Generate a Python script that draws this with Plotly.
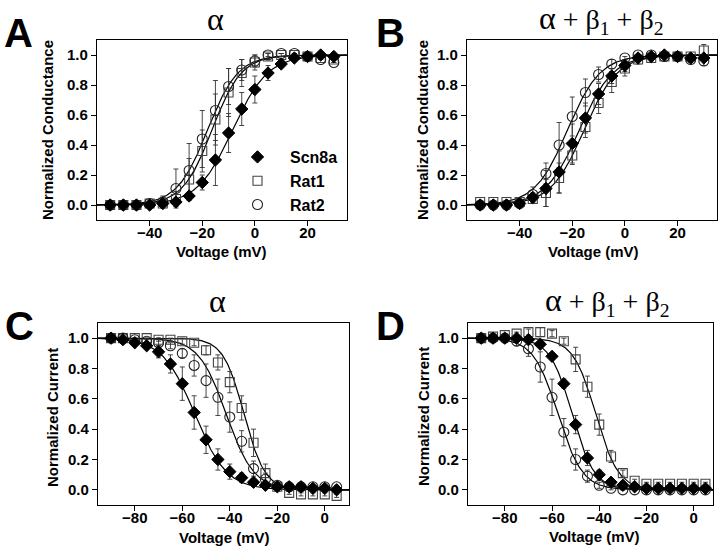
import numpy as np
import plotly.graph_objects as go

# ---------------- data ----------------
V_ACT = [-55, -50, -45, -40, -35, -30, -25, -20, -15, -10, -5, 0, 5, 10, 15, 20, 25, 30]
V_INACT = [-90, -85, -80, -75, -70, -65, -60, -55, -50, -45, -40, -35, -30, -25, -20, -15, -10, -5, 0, 5]

# Panel A (alpha, activation)
scn8a_A = [0, 0, 0, 0, 0.01, 0.02, 0.06, 0.15, 0.30, 0.48, 0.64, 0.77, 0.88, 0.94, 0.98, 0.99, 1.00, 0.99]
scn8a_A_err = [0, 0, 0, 0, 0, 0.01, 0.02, 0.05, 0.17, 0.13, 0.11, 0.09, 0.05, 0.02, 0.01, 0, 0, 0]
rat1_A = [0, 0, 0, 0.01, 0.01, 0.04, 0.17, 0.36, 0.57, 0.75, 0.88, 0.95, 0.99, 1.00, 1.00, 0.99, 0.98, 0.97]
rat1_A_err = [0, 0, 0, 0, 0.02, 0.05, 0.14, 0.14, 0.17, 0.16, 0.09, 0.05, 0.02, 0.01, 0, 0, 0, 0]
rat2_A = [0, 0, 0, 0.01, 0.02, 0.11, 0.23, 0.44, 0.63, 0.79, 0.90, 0.96, 1.00, 1.01, 1.01, 0.99, 0.97, 0.95]
rat2_A_err = [0, 0, 0, 0, 0.04, 0.13, 0.18, 0.19, 0.20, 0.12, 0.07, 0.04, 0.01, 0, 0, 0, 0, 0]

# Panel B (alpha + b1 + b2, activation)
scn8a_B = [0, 0, 0, 0.01, 0.05, 0.11, 0.22, 0.41, 0.58, 0.74, 0.86, 0.93, 0.98, 0.99, 1.00, 0.99, 0.98, 0.98]
scn8a_B_err = [0, 0, 0, 0, 0.03, 0.12, 0.14, 0.13, 0.10, 0.07, 0.05, 0.04, 0.02, 0.01, 0.01, 0, 0, 0.02]
rat1_B = [0.02, 0.02, 0.02, 0.02, 0.04, 0.08, 0.18, 0.33, 0.52, 0.68, 0.82, 0.91, 0.97, 0.98, 0.99, 0.99, 0.99, 1.03]
rat1_B_err = [0, 0, 0, 0, 0.03, 0.09, 0.10, 0.06, 0.07, 0.07, 0.07, 0.05, 0.03, 0.02, 0.01, 0.01, 0.01, 0.04]
rat2_B = [0, 0, 0, 0.01, 0.07, 0.21, 0.40, 0.59, 0.75, 0.87, 0.94, 0.98, 1.00, 1.00, 0.99, 0.99, 0.97, 0.96]
rat2_B_err = [0, 0, 0, 0, 0.05, 0.07, 0.15, 0.13, 0.09, 0.05, 0.03, 0.01, 0, 0, 0, 0, 0.02, 0.03]

# Panel C (alpha, inactivation)
scn8a_C = [1.0, 0.99, 0.97, 0.95, 0.91, 0.83, 0.70, 0.51, 0.33, 0.20, 0.12, 0.08, 0.05, 0.03, 0.02, 0.02, 0.02, 0.01, 0.01, 0.00]
scn8a_C_err = [0, 0.01, 0.01, 0.02, 0.04, 0.06, 0.11, 0.11, 0.09, 0.07, 0.05, 0.03, 0.02, 0.01, 0.01, 0.01, 0.01, 0.01, 0.01, 0.01]
rat1_C = [1.0, 1.0, 1.0, 1.0, 0.99, 0.99, 0.98, 0.97, 0.92, 0.84, 0.71, 0.54, 0.31, 0.11, 0.02, -0.02, -0.03, -0.03, -0.03, -0.04]
rat1_C_err = [0, 0, 0, 0, 0.01, 0.01, 0.02, 0.02, 0.03, 0.05, 0.07, 0.08, 0.09, 0.06, 0.03, 0.01, 0.01, 0.01, 0.01, 0.01]
rat2_C = [1.0, 1.0, 0.99, 0.98, 0.97, 0.95, 0.90, 0.82, 0.72, 0.61, 0.48, 0.32, 0.14, 0.07, 0.03, 0.02, 0.02, 0.02, 0.02, 0.02]
rat2_C_err = [0, 0, 0, 0.01, 0.02, 0.02, 0.03, 0.07, 0.11, 0.12, 0.10, 0.07, 0.05, 0.04, 0.01, 0.01, 0.01, 0.01, 0.01, 0.01]

# Panel D (alpha + b1 + b2, inactivation)
scn8a_D = [1.0, 1.0, 1.0, 1.0, 0.99, 0.96, 0.88, 0.70, 0.43, 0.21, 0.10, 0.05, 0.03, 0.02, 0.01, 0.01, 0.01, 0.01, 0.01, 0.01]
scn8a_D_err = [0, 0, 0, 0, 0.01, 0.01, 0.02, 0.03, 0.06, 0.05, 0.03, 0.02, 0.01, 0.01, 0.01, 0.01, 0.01, 0.01, 0.01, 0.02]
rat1_D = [1.0, 1.01, 1.02, 1.03, 1.04, 1.04, 1.03, 0.98, 0.86, 0.68, 0.43, 0.22, 0.11, 0.06, 0.04, 0.04, 0.04, 0.04, 0.04, 0.04]
rat1_D_err = [0, 0.01, 0.01, 0.01, 0.02, 0.03, 0.02, 0.02, 0.08, 0.07, 0.07, 0.04, 0.02, 0.01, 0.01, 0.01, 0.01, 0.01, 0.01, 0.01]
rat2_D = [1.0, 1.0, 1.0, 0.98, 0.93, 0.81, 0.61, 0.38, 0.20, 0.09, 0.03, 0.01, 0.0, 0.0, 0.0, 0.0, 0.0, 0.0, 0.0, 0.0]
rat2_D_err = [0, 0, 0, 0.03, 0.05, 0.10, 0.12, 0.09, 0.07, 0.04, 0.02, 0.01, 0, 0, 0, 0, 0, 0, 0, 0.01]

# Boltzmann fit parameters (V1/2 in mV, slope k in mV)
fit_A = {"Scn8a": (-8.5, 6.7), "Rat1": (-16.3, 5.6), "Rat2": (-18.0, 5.8)}
fit_B = {"Scn8a": (-17.3, 6.4), "Rat1": (-15.5, 6.3), "Rat2": (-21.8, 6.2)}
fit_C = {"Scn8a": (-54.8, 6.7), "Rat1": (-34.0, 4.4), "Rat2": (-41.5, 5.8)}
fit_D = {"Scn8a": (-51.5, 4.7), "Rat1": (-41.5, 4.8), "Rat2": (-57.5, 5.2)}

SERIES = ["Scn8a", "Rat1", "Rat2"]
Y_TICKS = [0.0, 0.2, 0.4, 0.6, 0.8, 1.0]
X_TICKS_ACT = [-40, -20, 0, 20]
X_TICKS_INACT = [-80, -60, -40, -20, 0]

# ---------------- styling ----------------
FONT = "Liberation Sans, Arial, sans-serif"
SERIF = "Liberation Serif, Times New Roman, serif"
marker_style = {
    "Scn8a": dict(symbol="diamond", size=9.5, color="black", line=dict(color="black", width=1)),
    "Rat1": dict(symbol="square-open", size=9, color="#444444", line=dict(width=1.1)),
    "Rat2": dict(symbol="circle-open", size=10, color="#222222", line=dict(width=1.1)),
}
draw_order = ["Rat1", "Rat2", "Scn8a"]
legend_rank = {"Scn8a": 1, "Rat1": 2, "Rat2": 3}

fig = go.Figure()

panels = [
    ("x", "y", V_ACT, {"Scn8a": (scn8a_A, scn8a_A_err), "Rat1": (rat1_A, rat1_A_err), "Rat2": (rat2_A, rat2_A_err)}, fit_A, (-60, 35), "act", True),
    ("x2", "y2", V_ACT, {"Scn8a": (scn8a_B, scn8a_B_err), "Rat1": (rat1_B, rat1_B_err), "Rat2": (rat2_B, rat2_B_err)}, fit_B, (-60, 35), "act", False),
    ("x3", "y3", V_INACT, {"Scn8a": (scn8a_C, scn8a_C_err), "Rat1": (rat1_C, rat1_C_err), "Rat2": (rat2_C, rat2_C_err)}, fit_C, (-95.5, 10.2), "inact", False),
    ("x4", "y4", V_INACT, {"Scn8a": (scn8a_D, scn8a_D_err), "Rat1": (rat1_D, rat1_D_err), "Rat2": (rat2_D, rat2_D_err)}, fit_D, (-95.6, 8.2), "inact", False),
]

for xa, ya, V, data, fits, xr, kind, show_leg in panels:
    vv = np.linspace(xr[0], xr[1], 300)
    for name in SERIES:
        vh, k = fits[name]
        if kind == "act":
            g = 1.0 / (1.0 + np.exp((vh - vv) / k))
        else:
            g = 1.0 / (1.0 + np.exp((vv - vh) / k))
        fig.add_trace(go.Scatter(x=vv, y=g, mode="lines", xaxis=xa, yaxis=ya,
                                 line=dict(color="black", width=1.2), showlegend=False,
                                 hoverinfo="skip"))
    for name in draw_order:
        y, e = data[name]
        fig.add_trace(go.Scatter(
            x=V, y=y, mode="markers", name=name, xaxis=xa, yaxis=ya,
            marker=marker_style[name],
            error_y=dict(type="data", array=e, visible=True, color="#333333", thickness=0.9, width=2.5),
            showlegend=show_leg, legendrank=legend_rank[name],
        ))

# page coordinates (page body margin is removed below, so the figure starts at 0,0)
W, H = 720, 554
def px(x):
    return x / W
def py(y):
    return 1 - y / H
def dx(a, b):
    return [px(a), px(b)]
def dy(top, bottom):
    return [py(bottom), py(top)]

TICKFONT = dict(family=FONT, size=15, color="black", weight="bold")
axis_common = dict(showline=True, linecolor="black", linewidth=1.2, mirror=True,
                   ticks="outside", ticklen=5, tickwidth=1.1, tickcolor="black",
                   showgrid=False, zeroline=False, tickfont=TICKFONT)

fig.update_layout(
    width=W, height=H, margin=dict(l=0, r=0, t=0, b=0),
    paper_bgcolor="white", plot_bgcolor="white",
    xaxis=dict(domain=dx(97, 347), range=[-60, 35], tickvals=X_TICKS_ACT, anchor="y", ticklabelstandoff=-6, **axis_common),
    yaxis=dict(domain=dy(40, 220), range=[-0.1, 1.1], tickvals=Y_TICKS, tickformat=".1f", anchor="x", **axis_common),
    xaxis2=dict(domain=dx(467, 717), range=[-60, 35], tickvals=X_TICKS_ACT, anchor="y2", ticklabelstandoff=-6, **axis_common),
    yaxis2=dict(domain=dy(40, 220), range=[-0.1, 1.1], tickvals=Y_TICKS, tickformat=".1f", anchor="x2", **axis_common),
    xaxis3=dict(domain=dx(98, 349), range=[-95.5, 10.2], tickvals=X_TICKS_INACT, anchor="y3", ticklabelstandoff=-6, **axis_common),
    yaxis3=dict(domain=dy(323, 505), range=[-0.1, 1.1], tickvals=Y_TICKS, tickformat=".1f", anchor="x3", **axis_common),
    xaxis4=dict(domain=dx(468, 713), range=[-95.6, 8.2], tickvals=X_TICKS_INACT, anchor="y4", ticklabelstandoff=-6, **axis_common),
    yaxis4=dict(domain=dy(323, 505), range=[-0.1, 1.1], tickvals=Y_TICKS, tickformat=".1f", anchor="x4", **axis_common),
    showlegend=True,
    legend=dict(x=px(225), y=py(140), xanchor="left", yanchor="top",
                bgcolor="rgba(0,0,0,0)", borderwidth=0,
                font=dict(family=FONT, size=16, color="black", weight="bold"),
                itemwidth=55, tracegroupgap=0),
)

def ann(text, x, y, size, family=FONT, bold=True, angle=0):
    fig.add_annotation(text=text, x=px(x), y=py(y), xref="paper", yref="paper",
                       showarrow=False, xanchor="center", yanchor="middle", textangle=angle,
                       font=dict(family=family, size=size, color="black",
                                 weight="bold" if bold else "normal"))

# panel letters
ann("A", 18, 33, 40)
ann("B", 390, 33, 40)
ann("C", 19, 326, 40)
ann("D", 391, 326, 40)

# panel titles
ALPHA = "<span style='font-size:32px'>α</span>"
ann(ALPHA, 215, 19, 28, family=SERIF, bold=False)
ann(ALPHA + " + β<sub>1</sub> + β<sub>2</sub>", 601, 19, 28, family=SERIF, bold=False)
ann(ALPHA, 217, 301, 28, family=SERIF, bold=False)
ann(ALPHA + " + β<sub>1</sub> + β<sub>2</sub>", 607, 301, 28, family=SERIF, bold=False)

# axis titles
ann("Voltage (mV)", 221, 251, 15)
ann("Voltage (mV)", 593, 251, 15)
ann("Voltage (mV)", 224, 537, 15)
ann("Voltage (mV)", 594, 536, 15)
ann("Normalized Conductance", 47, 130, 15, angle=-90)
ann("Normalized Conductance", 422, 130, 15, angle=-90)
ann("Normalized Current", 52, 417, 15, angle=-90)
ann("Normalized Current", 423, 417, 15, angle=-90)

fig.write_html("out.html", config={"displayModeBar": False},
               post_script="document.body.style.margin='0px';")
